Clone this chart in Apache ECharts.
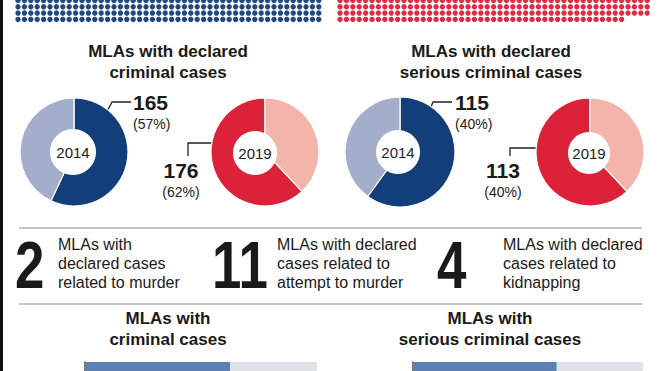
<!DOCTYPE html>
<html>
<head>
<meta charset="utf-8">
<script src="https://cdn.jsdelivr.net/npm/echarts@6/dist/echarts.min.js"></script>
<style>
html,body{margin:0;padding:0;background:#fff;}
#chart{width:660px;height:371px;}
</style>
</head>
<body>
<div id="chart"></div>
<script>
// ---------- data ----------
const blueDotRows = [48, 48, 48, 48];          // MLA dots per visible row (2014)
const redDotRows = [49, 49, 49, 45];           // MLA dots per visible row (2019)

const donutYears = ['2014', '2019', '2014', '2019'];
const donutShares = [[57, 43], [62, 38], [60, 40], [62, 38]];   // slice shares as drawn
const donutValueLabels = ['165', '176', '115', '113'];
const donutPctLabels = ['(57%)', '(62%)', '(40%)', '(40%)'];

const groupTitles = ['MLAs with declared\ncriminal cases', 'MLAs with declared\nserious criminal cases'];
const factNumbers = ['2', '11', '4'];
const factTexts = [
  'MLAs with\ndeclared cases\nrelated to murder',
  'MLAs with declared\ncases related to\nattempt to murder',
  'MLAs with declared\ncases related to\nkidnapping'
];
const bottomTitles = ['MLAs with\ncriminal cases', 'MLAs with\nserious criminal cases'];
const bottomBarShares = [[62.5, 37.5], [62.5, 37.5]];

// ---------- styling ----------
const NAVY = '#123f7a', LIGHTBLUE = '#a3aecb', RED = '#dc2239', PINK = '#f3b4aa';
const FONT = "'Liberation Sans', Arial, sans-serif";

function dotData(rows) {
  const d = [];
  rows.forEach((n, r) => { for (let c = 0; c < n; c++) d.push([c, r]); });
  return d;
}

const donutGeom = [
  {c: [74, 152], R: 54, hc: [73, 152], hr: 23, dark: NAVY, light: LIGHTBLUE, clockwise: true,
   pts: [[104, 117], [112, 102], [131, 102]], lx: 133, ly: 90, align: 'left'},
  {c: [265, 152], R: 54, hc: [255, 153], hr: 22, dark: RED, light: PINK, clockwise: false,
   pts: [[214, 143], [188, 143], [188, 156]], lx: 181, ly: 158, align: 'center'},
  {c: [400, 152], R: 55, hc: [398, 152], hr: 22, dark: NAVY, light: LIGHTBLUE, clockwise: true,
   pts: [[427, 117], [433, 102], [452, 102]], lx: 455, ly: 90, align: 'left'},
  {c: [590, 152], R: 54, hc: [589, 153], hr: 21, dark: RED, light: PINK, clockwise: false,
   pts: [[539, 148], [510, 148], [510, 156]], lx: 503, ly: 158, align: 'center'}
];

const series = [];
// dot rows
series.push({type: 'scatter', xAxisIndex: 0, yAxisIndex: 0, symbolSize: 5.4, silent: true,
  itemStyle: {color: NAVY, opacity: 0.95}, data: dotData(blueDotRows)});
series.push({type: 'scatter', xAxisIndex: 1, yAxisIndex: 1, symbolSize: 5.4, silent: true,
  itemStyle: {color: RED, opacity: 0.95}, data: dotData(redDotRows)});

// donuts
donutGeom.forEach((g, i) => {
  series.push({
    type: 'pie', center: g.c, radius: [0, g.R], startAngle: 90, clockwise: g.clockwise,
    silent: true, animation: false,
    itemStyle: {borderColor: '#fff', borderWidth: 1.2},
    labelLine: {show: true, length: 5, length2: 5, lineStyle: {color: '#222', width: 1.3}},
    labelLayout: function (p) {
      if (p.dataIndex !== 0) return {};
      return {x: g.lx, y: g.ly, align: g.align, verticalAlign: 'top', labelLinePoints: g.pts};
    },
    data: [
      {value: donutShares[i][0], name: donutValueLabels[i], itemStyle: {color: g.dark},
       label: {show: true, position: 'outside', formatter: '{a|' + donutValueLabels[i] + '}\n{b|' + donutPctLabels[i] + '}',
         rich: {a: {fontFamily: FONT, fontWeight: 'bold', fontSize: 21, lineHeight: 24, color: '#1a1a1a', align: g.align},
                b: {fontFamily: FONT, fontSize: 14, lineHeight: 20, color: '#1a1a1a', align: g.align}}}},
      {value: donutShares[i][1], name: 'rest', itemStyle: {color: g.light}, label: {show: false}, labelLine: {show: false}}
    ]
  });
  series.push({
    type: 'pie', center: g.hc, radius: [0, g.hr], silent: true, animation: false,
    itemStyle: {color: '#fff'}, labelLine: {show: false},
    label: {show: true, position: 'center', formatter: donutYears[i], fontFamily: FONT, fontSize: 15, color: '#222'},
    data: [{value: 1, name: donutYears[i]}]
  });
});

// bottom bars
[2, 3].forEach((gi, k) => {
  series.push({type: 'bar', xAxisIndex: gi, yAxisIndex: gi, stack: 's' + k, barWidth: 9, silent: true,
    itemStyle: {color: '#5c82b4'}, data: [bottomBarShares[k][0]]});
  series.push({type: 'bar', xAxisIndex: gi, yAxisIndex: gi, stack: 's' + k, barWidth: 9, silent: true,
    itemStyle: {color: '#dfe3e8'}, data: [bottomBarShares[k][1]]});
});

function hiddenValueAxis(gi, max, inverse) {
  return {type: 'value', gridIndex: gi, min: 0, max: max, inverse: !!inverse, show: false};
}

const graphic = [
  {type: 'rect', shape: {x: 0, y: 0, width: 3, height: 371}, style: {fill: '#111'}},
  {type: 'line', shape: {x1: 19, y1: 228, x2: 642, y2: 228}, style: {stroke: '#c6c6c6', lineWidth: 2}},
  {type: 'line', shape: {x1: 19, y1: 304, x2: 642, y2: 304}, style: {stroke: '#c6c6c6', lineWidth: 2}}
];
function txt(text, x, y, font, align, lh, sx) {
  return {type: 'text', x: x, y: y, scaleX: sx || 1, style: {text: text, x: 0, y: 0, font: font, fill: '#1a1a1a',
    align: align, textAlign: align, verticalAlign: 'top', textVerticalAlign: 'top', lineHeight: lh}};
}
graphic.push(txt(groupTitles[0], 168, 41, 'bold 17px ' + FONT, 'center', 21));
graphic.push(txt(groupTitles[1], 491, 41, 'bold 17px ' + FONT, 'center', 21));
const factX = [15, 212, 437], factTX = [58, 277, 503];
factNumbers.forEach((n, i) => {
  graphic.push(txt(n, factX[i], 230, 'bold 66px ' + FONT, 'left', 70, 0.8));
  graphic.push(txt(factTexts[i], factTX[i], 235, '16px ' + FONT, 'left', 19));
});
graphic.push(txt(bottomTitles[0], 168, 308, 'bold 17px ' + FONT, 'center', 21));
graphic.push(txt(bottomTitles[1], 490, 308, 'bold 17px ' + FONT, 'center', 21));

const option = {
  backgroundColor: '#fff',
  animation: false,
  grid: [
    {left: 18, top: 0.5, width: 47 * 6.4, height: 3 * 6.3},
    {left: 340, top: 0.5, width: 48 * 6.4, height: 3 * 6.3},
    {left: 85, top: 362, width: 232, height: 20},
    {left: 413, top: 362, width: 230, height: 20}
  ],
  xAxis: [hiddenValueAxis(0, 47), hiddenValueAxis(1, 48), hiddenValueAxis(2, 100), hiddenValueAxis(3, 100)],
  yAxis: [hiddenValueAxis(0, 3, true), hiddenValueAxis(1, 3, true),
    {type: 'category', gridIndex: 2, data: ['a'], axisLine: {show: true, lineStyle: {color: '#444', width: 1.5}},
     axisTick: {show: false}, axisLabel: {show: false}},
    {type: 'category', gridIndex: 3, data: ['b'], axisLine: {show: true, lineStyle: {color: '#444', width: 1.5}},
     axisTick: {show: false}, axisLabel: {show: false}}],
  series: series,
  graphic: graphic
};
const chart = echarts.init(document.getElementById('chart'), null, {renderer: 'svg'});
chart.setOption(option);
</script>
</body>
</html>
